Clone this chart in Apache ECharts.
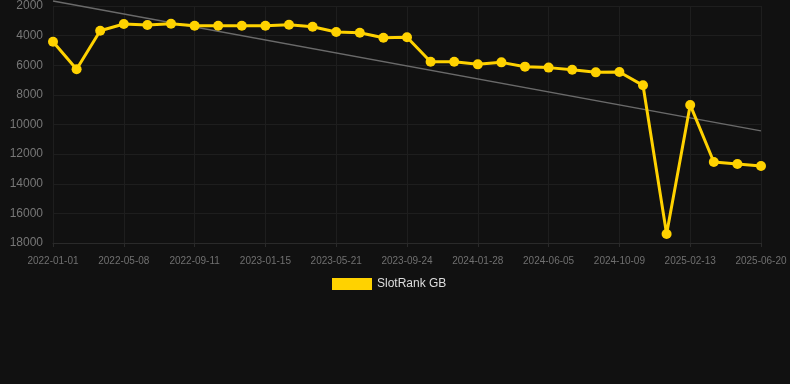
<!DOCTYPE html>
<html><head><meta charset="utf-8">
<script src="https://cdn.jsdelivr.net/npm/echarts@6/dist/echarts.min.js"></script>
<style>html,body{margin:0;padding:0;background:#111111;}#c{width:790px;height:384px;}</style>
</head><body><div id="c"></div>
<script>
var categories = ['2022-01-01','2022-02-12','2022-03-26','2022-05-08','2022-06-19','2022-07-31','2022-09-11','2022-10-23','2022-12-04','2023-01-15','2023-02-26','2023-04-09','2023-05-21','2023-07-02','2023-08-13','2023-09-24','2023-11-05','2023-12-17','2024-01-28','2024-03-10','2024-04-23','2024-06-05','2024-07-17','2024-08-28','2024-10-09','2024-11-20','2025-01-01','2025-02-13','2025-03-28','2025-05-09','2025-06-20'];
var rankValues = [4410,6275,3670,3215,3285,3195,3330,3330,3330,3330,3260,3395,3755,3800,4140,4115,5760,5760,5940,5805,6095,6160,6300,6480,6455,7355,17390,8680,12530,12665,12800];
var trendValues = [1660,null,null,null,null,null,null,null,null,null,null,null,null,null,null,null,null,null,null,null,null,null,null,null,null,null,null,null,null,null,10430];
var yTicks = {min:2000, max:18000, interval:2000};
var seriesName = 'SlotRank GB';

var chart = echarts.init(document.getElementById('c'), null, {renderer:'canvas'});
chart.setOption({
  backgroundColor:'#111111',
  animation:false,
  grid:{left:53, right:29, top:6, bottom:141, containLabel:false},
  legend:{
    data:[seriesName], bottom:89, left:327,
    icon:'rect', itemWidth:40, itemHeight:12, itemGap:10,
    textStyle:{color:'#dddddd', fontSize:12, fontFamily:'Liberation Sans, Arial, sans-serif'}
  },
  xAxis:{
    type:'category', data:categories, boundaryGap:false,
    axisLine:{lineStyle:{color:'#2a2a2a'}},
    axisTick:{show:true, interval:2, length:4, lineStyle:{color:'#2a2a2a'}},
    axisLabel:{interval:2, color:'#707070', fontSize:10, margin:13, fontFamily:'Liberation Sans, Arial, sans-serif'},
    splitLine:{show:true, interval:2, lineStyle:{color:'#1e1e1e', width:1}}
  },
  yAxis:{
    type:'value', inverse:true, min:yTicks.min, max:yTicks.max, interval:yTicks.interval,
    axisLine:{show:false}, axisTick:{show:false},
    axisLabel:{color:'#777777', fontSize:12, margin:10, fontFamily:'Liberation Sans, Arial, sans-serif',
      formatter:function(v){return String(v);}},
    splitLine:{lineStyle:{color:'#1e1e1e', width:1}}
  },
  series:[
    {
      name:'trend', type:'line', data:trendValues, connectNulls:true, clip:false,
      symbol:'none', lineStyle:{color:'#6a6a6a', width:1.5}, z:1, silent:true
    },
    {
      name:seriesName, type:'line', data:rankValues, clip:false,
      symbol:'circle', symbolSize:10,
      itemStyle:{color:'#FFD200'},
      lineStyle:{color:'#FFD200', width:3}, z:2
    }
  ]
});
</script></body></html>
